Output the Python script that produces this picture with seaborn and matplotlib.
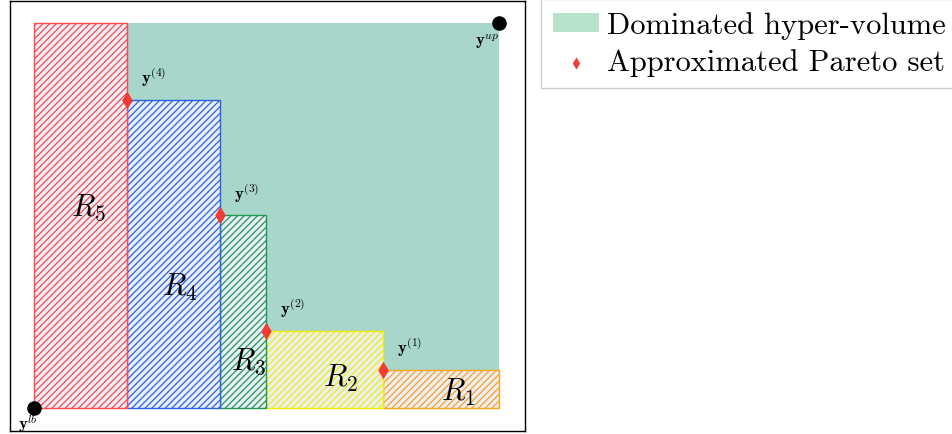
import matplotlib.pyplot as plt
import pandas as pd
import seaborn as sns

# objective-space data
y_lb = (0.0, 0.0)
y_up = (10.0, 10.0)
pareto_x = [7.5, 5.0, 4.0, 2.0]
pareto_y = [1.0, 2.0, 5.0, 8.0]
point_labels = [r"$\mathbf{y}^{(1)}$", r"$\mathbf{y}^{(2)}$",
                r"$\mathbf{y}^{(3)}$", r"$\mathbf{y}^{(4)}$"]
region_names = [r"$R_1$", r"$R_2$", r"$R_3$", r"$R_4$", r"$R_5$"]
region_colors = ["#ffa31a", "#f2ee00", "#1f9950", "#2a62e6", "#ff4a4a"]

HV_COLOR = "#a9d6ca"
PARETO_COLOR = "#f23c33"

sns.set_style("white")
plt.rcParams["font.family"] = ["cmr10", "DejaVu Serif"]
plt.rcParams["mathtext.fontset"] = "cm"
plt.rcParams["hatch.linewidth"] = 0.9
plt.rcParams["text.color"] = "black"

fig = plt.figure(figsize=(9.52, 4.35), dpi=100)
ax = fig.add_axes([0.0105, 0.0069, 0.541, 0.9885])

# dominated hyper-volume
ax.fill_between([y_lb[0], y_up[0]], y_lb[1], y_up[1], color=HV_COLOR, lw=0,
                label="Dominated hyper-volume", zorder=1)

# regions R_i below the staircase
rights = [y_up[0]] + pareto_x
lefts = pareto_x + [y_lb[0]]
tops = pareto_y + [y_up[1]]
for left, right, top, color in zip(lefts, rights, tops, region_colors):
    ax.bar(left, top - y_lb[1], width=right - left, bottom=y_lb[1], align="edge",
           facecolor="#e9eef8", edgecolor=color, hatch="/////", lw=1.0, zorder=2)

label_pos = [(9.12, 0.42), (6.6, 0.8), (4.62, 1.22), (3.14, 3.17), (1.16, 5.22)]
for (lx, ly), name in zip(label_pos, region_names):
    ax.text(lx, ly, name, fontsize=22, ha="center", va="center", zorder=5)

pareto = pd.DataFrame({"f1": pareto_x, "f2": pareto_y})
sns.scatterplot(data=pareto, x="f1", y="f2", ax=ax, marker="d", s=80,
                color=PARETO_COLOR, edgecolor=PARETO_COLOR, linewidth=0,
                label="Approximated Pareto set", zorder=4)

bounds = pd.DataFrame({"f1": [y_lb[0], y_up[0]], "f2": [y_lb[1], y_up[1]]})
sns.scatterplot(data=bounds, x="f1", y="f2", ax=ax, marker="o", s=110,
                color="black", linewidth=0, zorder=4, legend=False)

for px, py, lab in zip(pareto_x, pareto_y, point_labels):
    ax.text(px + 0.3, py + 0.3, lab, fontsize=12, ha="left", va="bottom", zorder=5)
ax.text(y_up[0] - 0.25, y_up[1] - 0.45, r"$\mathbf{y}^{up}$", fontsize=12,
        ha="center", va="center", zorder=5)
ax.text(y_lb[0] - 0.13, y_lb[1] - 0.38, r"$\mathbf{y}^{lb}$", fontsize=12,
        ha="center", va="center", zorder=5)

ax.set_xlim(-0.516, 10.56)
ax.set_ylim(-0.597, 10.57)
ax.set_xticks([])
ax.set_yticks([])
ax.set_xlabel("")
ax.set_ylabel("")
for spine in ax.spines.values():
    spine.set_color("black")
    spine.set_linewidth(1.0)

leg = ax.legend(loc="upper left", bbox_to_anchor=(541 / 952, 1.0),
                bbox_transform=fig.transFigure, fontsize=22, frameon=True,
                fancybox=False, edgecolor="#cccccc", framealpha=1.0,
                handlelength=1.5, handleheight=0.6, handletextpad=0.25,
                borderpad=0.4, labelspacing=0.3, borderaxespad=0.0,
                markerscale=0.7)
leg.legend_handles[0].set_facecolor("#b8e2cd")
for text in leg.get_texts():
    text.set_color("black")

fig.savefig("out.png", dpi=100)
